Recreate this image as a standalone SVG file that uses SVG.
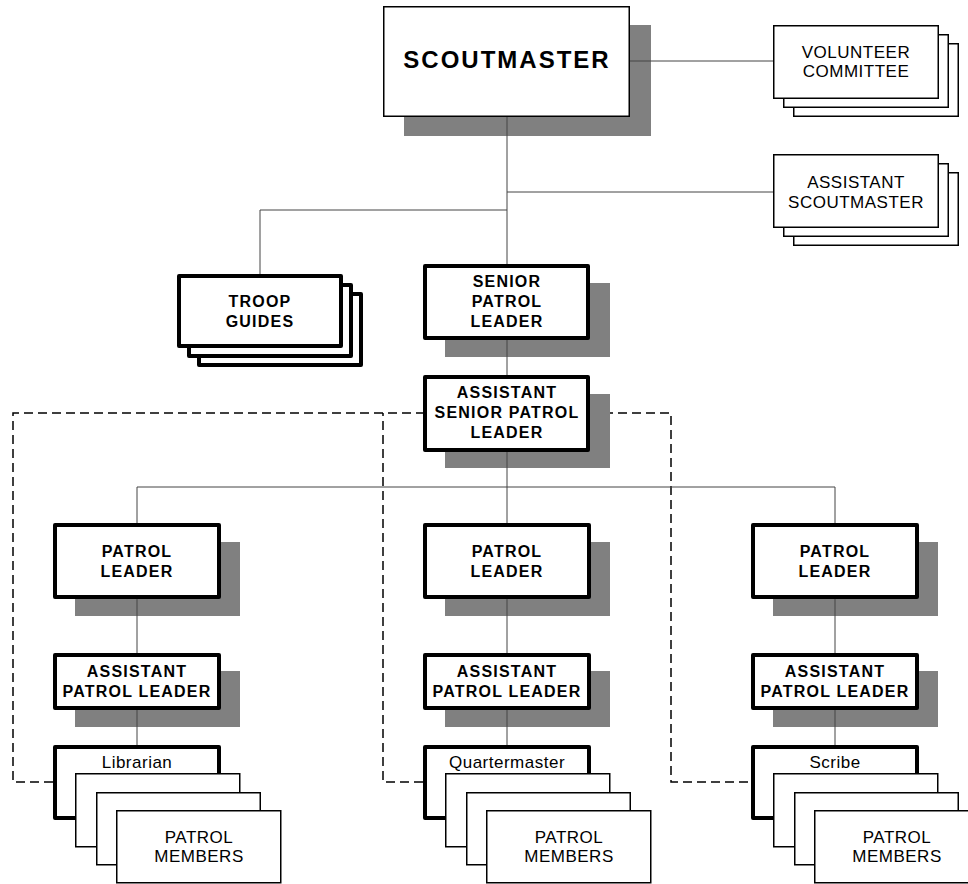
<svg xmlns="http://www.w3.org/2000/svg" width="968" height="884" viewBox="0 0 968 884">
<style>
.sh{fill:#808080;}
.thin{fill:#fff;stroke:#000;stroke-width:1.5;}
.thick{fill:#fff;stroke:#000;stroke-width:4;stroke-linejoin:round;}
.ln{fill:none;stroke:#444;stroke-width:1;}
.dash{fill:none;stroke:#000;stroke-width:1.5;stroke-dasharray:9,5;}
text{font-family:"Liberation Sans",Arial,sans-serif;fill:#000;text-anchor:middle;}
.b{font-weight:bold;font-size:16px;letter-spacing:1.2px;}
.r{font-size:17px;letter-spacing:0.5px;}
.big{font-weight:bold;font-size:24px;letter-spacing:2px;}
</style>
<rect width="968" height="884" fill="#fff"/>
<g id="dashed">
<path class="dash" d="M53,782 H13 V413 H423"/>
<path class="dash" d="M423,782 H383 V413"/>
<path class="dash" d="M590,413 H671 V782 H751"/>
</g>
<g id="shadows">
<rect class="sh" x="404" y="25" width="247" height="111"/>
<rect class="sh" x="445" y="283" width="165" height="74"/>
<rect class="sh" x="445" y="394" width="165" height="74"/>
<rect class="sh" x="75" y="542" width="165" height="74"/>
<rect class="sh" x="75" y="671" width="165" height="56"/>
<rect class="sh" x="445" y="542" width="165" height="74"/>
<rect class="sh" x="445" y="671" width="165" height="56"/>
<rect class="sh" x="773" y="542" width="165" height="74"/>
<rect class="sh" x="773" y="671" width="165" height="56"/>
</g>
<g id="connectors">
<path class="ln" d="M507,117 V264 M507,340 V375 M507,452 V523"/>
<path class="ln" d="M630,61 H773"/>
<path class="ln" d="M507,192 H773"/>
<path class="ln" d="M507,210 H260 V274"/>
<path class="ln" d="M137,523 V487 H835 V523"/>
<path class="ln" d="M137,599 V653 M137,710 V745"/>
<path class="ln" d="M507,599 V653 M507,710 V745"/>
<path class="ln" d="M835,599 V653 M835,710 V745"/>
</g>
<g id="scoutmaster">
<rect class="thin" x="383.75" y="6.75" width="245.5" height="109.5"/>
<text class="big" x="507" y="68">SCOUTMASTER</text>
</g>
<g id="volunteer-committee">
<rect class="thin" x="793.75" y="43.75" width="164.5" height="72.5"/>
<rect class="thin" x="783.75" y="34.75" width="164.5" height="72.5"/>
<rect class="thin" x="773.75" y="25.75" width="164.5" height="72.5"/>
<text class="r" x="856" y="58">VOLUNTEER</text>
<text class="r" x="856" y="77">COMMITTEE</text>
</g>
<g id="assistant-scoutmaster">
<rect class="thin" x="793.75" y="172.75" width="164.5" height="72.5"/>
<rect class="thin" x="783.75" y="163.75" width="164.5" height="72.5"/>
<rect class="thin" x="773.75" y="154.75" width="164.5" height="72.5"/>
<text class="r" x="856" y="188">ASSISTANT</text>
<text class="r" x="856" y="208">SCOUTMASTER</text>
</g>
<g id="troop-guides">
<rect class="thick" x="199" y="294" width="162" height="71"/>
<rect class="thick" x="189" y="285" width="162" height="71"/>
<rect class="thick" x="179" y="276" width="162" height="70"/>
<text class="b" x="260" y="307">TROOP</text>
<text class="b" x="260" y="327">GUIDES</text>
</g>
<g id="senior-patrol-leader">
<rect class="thick" x="425" y="266" width="163" height="72"/>
<text class="b" x="507" y="287">SENIOR</text>
<text class="b" x="507" y="307">PATROL</text>
<text class="b" x="507" y="327">LEADER</text>
</g>
<g id="assistant-senior-patrol-leader">
<rect class="thick" x="425" y="377" width="163" height="73"/>
<text class="b" x="507" y="398">ASSISTANT</text>
<text class="b" x="507" y="418">SENIOR PATROL</text>
<text class="b" x="507" y="438">LEADER</text>
</g>
<g id="patrol-leader-1">
<rect class="thick" x="55" y="525" width="164" height="72"/>
<text class="b" x="137" y="557">PATROL</text>
<text class="b" x="137" y="577">LEADER</text>
</g>
<g id="assistant-patrol-leader-1">
<rect class="thick" x="55" y="655" width="164" height="53"/>
<text class="b" x="137" y="677">ASSISTANT</text>
<text class="b" x="137" y="697">PATROL LEADER</text>
</g>
<g id="librarian">
<rect class="thick" x="55" y="747" width="164" height="71"/>
<text class="r" x="137" y="768">Librarian</text>
</g>
<g id="patrol-members-1">
<rect class="thin" x="75.75" y="773.75" width="164" height="73"/>
<rect class="thin" x="96.75" y="792.75" width="163.5" height="72"/>
<rect class="thin" x="116.75" y="810.75" width="164" height="72"/>
<text class="r" x="199" y="843">PATROL</text>
<text class="r" x="199" y="862">MEMBERS</text>
</g>
<g id="patrol-leader-2">
<rect class="thick" x="425" y="525" width="164" height="72"/>
<text class="b" x="507" y="557">PATROL</text>
<text class="b" x="507" y="577">LEADER</text>
</g>
<g id="assistant-patrol-leader-2">
<rect class="thick" x="425" y="655" width="164" height="53"/>
<text class="b" x="507" y="677">ASSISTANT</text>
<text class="b" x="507" y="697">PATROL LEADER</text>
</g>
<g id="quartermaster">
<rect class="thick" x="425" y="747" width="164" height="71"/>
<text class="r" x="507" y="768">Quartermaster</text>
</g>
<g id="patrol-members-2">
<rect class="thin" x="445.75" y="773.75" width="164" height="73"/>
<rect class="thin" x="466.75" y="792.75" width="163.5" height="72"/>
<rect class="thin" x="486.75" y="810.75" width="164" height="72"/>
<text class="r" x="569" y="843">PATROL</text>
<text class="r" x="569" y="862">MEMBERS</text>
</g>
<g id="patrol-leader-3">
<rect class="thick" x="753" y="525" width="164" height="72"/>
<text class="b" x="835" y="557">PATROL</text>
<text class="b" x="835" y="577">LEADER</text>
</g>
<g id="assistant-patrol-leader-3">
<rect class="thick" x="753" y="655" width="164" height="53"/>
<text class="b" x="835" y="677">ASSISTANT</text>
<text class="b" x="835" y="697">PATROL LEADER</text>
</g>
<g id="scribe">
<rect class="thick" x="753" y="747" width="164" height="71"/>
<text class="r" x="835" y="768">Scribe</text>
</g>
<g id="patrol-members-3">
<rect class="thin" x="773.75" y="773.75" width="164" height="73"/>
<rect class="thin" x="794.75" y="792.75" width="163.5" height="72"/>
<rect class="thin" x="814.75" y="810.75" width="164" height="72"/>
<text class="r" x="897" y="843">PATROL</text>
<text class="r" x="897" y="862">MEMBERS</text>
</g>
</svg>
